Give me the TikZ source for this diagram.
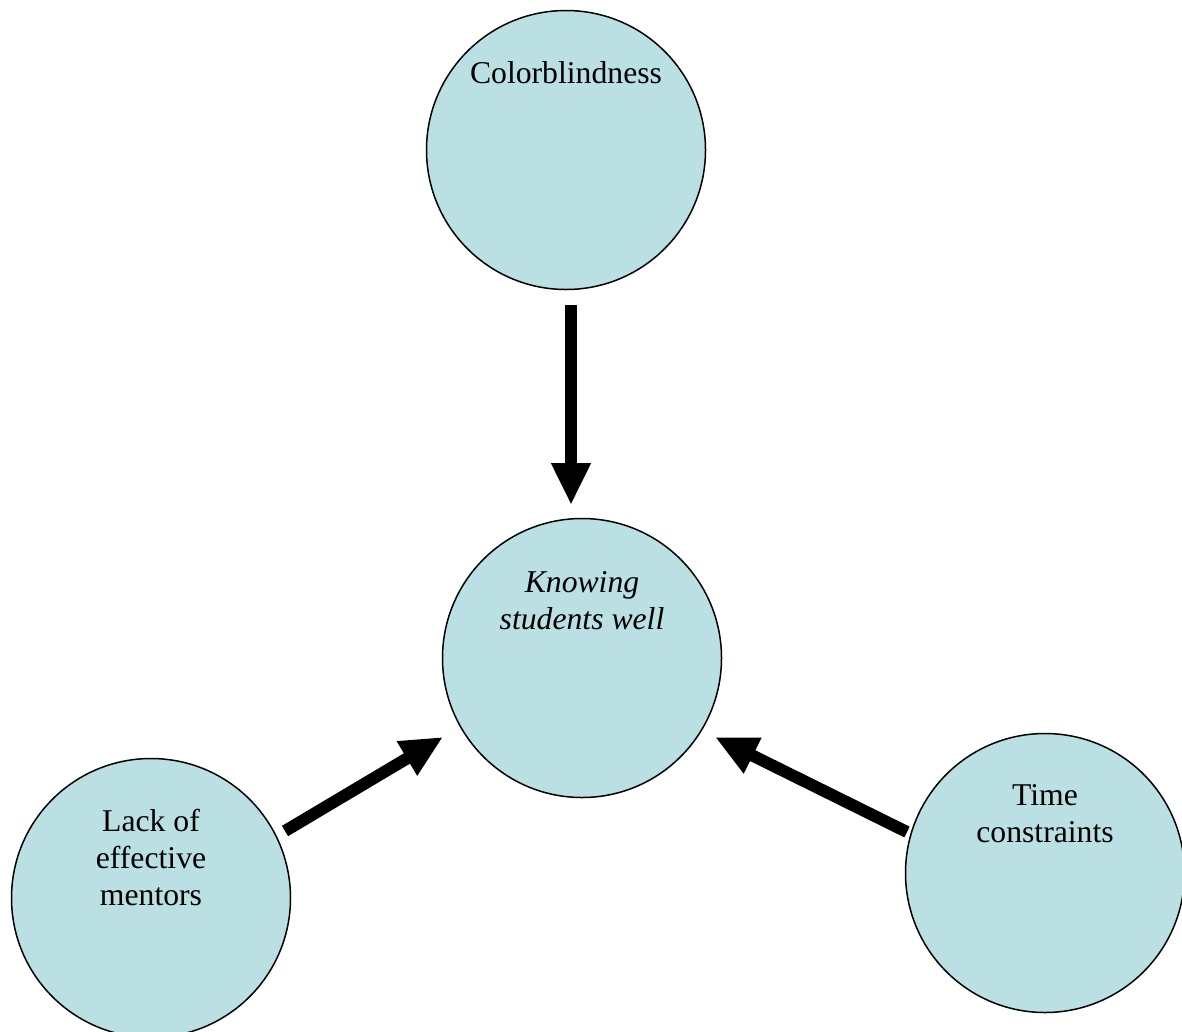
\documentclass[tikz,border=0pt]{standalone}
\usepackage{fontspec}
\setmainfont{Liberation Serif}
\usepackage{tikz}
\usetikzlibrary{arrows.meta,positioning}
\definecolor{bubblefill}{RGB}{186,224,227}

\begin{document}
\begin{tikzpicture}[
    x=1pt, y=-1pt,
    bubble/.style={circle, draw, line width=1.5pt, fill=bubblefill, minimum size=279pt, inner sep=0pt},
    btext/.style={anchor=north, align=center, inner sep=0pt, font=\fontsize{31.7}{37}\selectfont},
    push/.style={-{Triangle[length=42pt, width=37pt]}, line width=12pt}
]
\useasboundingbox (0,0) rectangle (1182,1031);

\node[bubble] (CB) at (566,150)  {};
\node[bubble] (KS) at (582,658)  {};
\node[bubble] (LM) at (151,898)  {};
\node[bubble] (TC) at (1045,873) {};

\node[btext, below=52pt of CB.north] (CBt) {Colorblindness};
\node[btext, below=54pt of KS.north] (KSt) {\itshape Knowing\\ \itshape students well};
\node[btext, below=51pt of LM.north] (LMt) {Lack of\\ effective\\ mentors};
\node[btext, below=52pt of TC.north] (TCt) {Time\\ constraints};

% arrow ends, kept off the circles
\coordinate (CBa) at (571,305);  \coordinate (CBb) at (571,505);
\coordinate (LMa) at (285,831);  \coordinate (LMb) at (443,737);
\coordinate (TCa) at (907,832);  \coordinate (TCb) at (715,737);

\draw[push] (CBa) -- (CBb);
\draw[push] (LMa) -- (LMb);
\draw[push] (TCa) -- (TCb);
\end{tikzpicture}
\end{document}
